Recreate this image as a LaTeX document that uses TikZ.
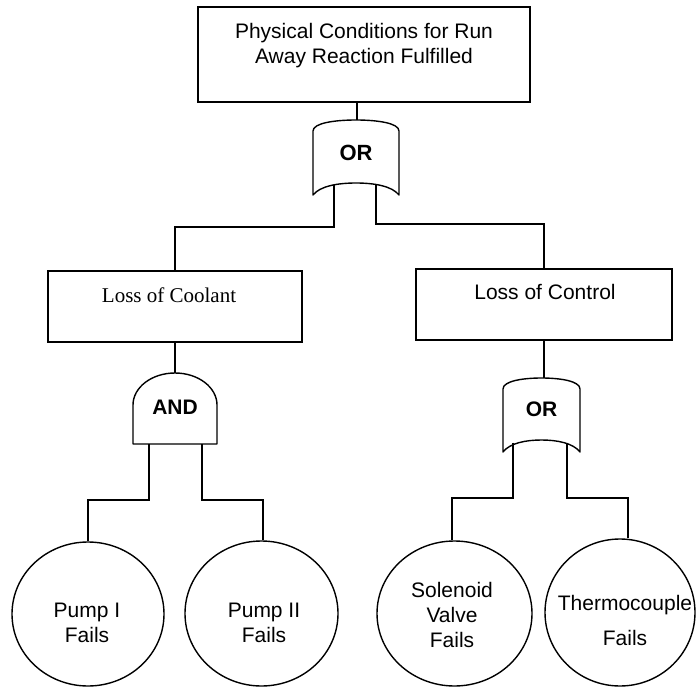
\documentclass[tikz,border=0pt]{standalone}
\usepackage{fontspec}
\setmainfont{Liberation Sans}
\newfontfamily\timesfont{Liberation Serif}
\usetikzlibrary{shapes.geometric,calc}
\begin{document}
\begin{tikzpicture}[x=1pt,y=-1pt, line width=1.4pt,
  box/.style={draw, rectangle, inner sep=0pt},
  ev/.style={draw, ellipse, inner sep=0pt},
  lbl/.style={font=\fontsize{21}{25}\selectfont, align=center, inner sep=0pt},
  gatelbl/.style={font=\fontsize{21}{25}\selectfont\bfseries, inner sep=0pt},
  gate/.style={draw, line join=round}]
\useasboundingbox (0,0) rectangle (696,687);

% boxes (base anchor = baseline of the last line)
\node[box, minimum width=332pt, minimum height=95pt] (top) at (364,54.5) {};
\node[lbl, anchor=base] (toptxt) at (364,64) {Physical Conditions for Run\\Away Reaction Fulfilled};
\node[box, minimum width=254pt, minimum height=71pt] (cool) at (175,306.5) {};
\node[lbl, font=\fontsize{21}{25}\timesfont, anchor=base] (cooltxt) at (169,302) {Loss of Coolant};
\node[box, minimum width=256pt, minimum height=71pt] (ctrl) at (544,304.5) {};
\node[lbl, anchor=base] (ctrltxt) at (545,299) {Loss of Control};

% top OR gate
\draw[gate] (313,195) -- (313,131) .. controls (313,123) and (335,120) .. (356,120)
  .. controls (377,120) and (399,123) .. (399,131) -- (399,195)
  .. controls (392,186) and (374,183) .. (356,183)
  .. controls (338,183) and (320,186) .. (313,195) -- cycle;
\node[gatelbl, font=\fontsize{22}{25}\selectfont\bfseries] (or1) at (356,153) {OR};
\coordinate (g1in) at (357,120);
\coordinate (g1oL) at (334,185.5);
\coordinate (g1oR) at (376,185.5);

% AND gate
\draw[gate] (133,444) -- (133,405) .. controls (133,387.3) and (151.8,373) .. (175,373)
  .. controls (198.2,373) and (217,387.3) .. (217,405) -- (217,444) -- cycle;
\node[gatelbl] (and1) at (175,407) {AND};
\coordinate (a1in) at (175,373);
\coordinate (a1oL) at (149,444);
\coordinate (a1oR) at (202,444);

% second OR gate
\draw[gate] (503,452) -- (503,389) .. controls (503,381) and (523,378) .. (541.5,378)
  .. controls (560,378) and (580,381) .. (580,389) -- (580,452)
  .. controls (573,443) and (557,440) .. (541.5,440)
  .. controls (526,440) and (510,443) .. (503,452) -- cycle;
\node[gatelbl] (or2) at (541.5,409) {OR};
\coordinate (g2in) at (544,378);
\coordinate (g2oL) at (513,442.5);
\coordinate (g2oR) at (567,442.5);

% basic events
\node[ev, minimum width=152pt, minimum height=144pt] (p1) at (88,614) {};
\node[lbl, anchor=base] (p1t) at (87,642) {Pump I\\Fails};
\node[ev, minimum width=153pt, minimum height=145pt] (p2) at (261.5,613.5) {};
\node[lbl, anchor=base] (p2t) at (264,642) {Pump II\\Fails};
\node[ev, minimum width=155pt, minimum height=145pt] (sv) at (454.5,613.5) {};
\node[lbl, anchor=base] (svt) at (452,647) {Solenoid\\Valve\\Fails};
\node[ev, minimum width=150pt, minimum height=147pt] (tc) at (620,612.5) {};
\node[lbl, anchor=base] (tct) at (625,645) {Thermocouple\\[10pt]Fails};

% connectors
\draw (top.south -| g1in) -- (g1in);
\draw (g1oL) -- ++(0,41.5) -| (cool.north);
\draw (g1oR) -- ++(0,38.5) -| (ctrl.north);
\draw (cool.south) -- (a1in);
\draw (a1oL) -- ++(0,56) -| (p1.north);
\draw (a1oR) -- ++(0,56) -| ($(p2.north)+(1.5,0)$);
\draw (ctrl.south) -- (g2in);
\draw (g2oL) -- ++(0,55.5) -| ($(sv.north)+(-2.5,0)$);
\draw (g2oR) -- ++(0,55.5) -| ($(tc.north)+(8,0)$);
\end{tikzpicture}
\end{document}
